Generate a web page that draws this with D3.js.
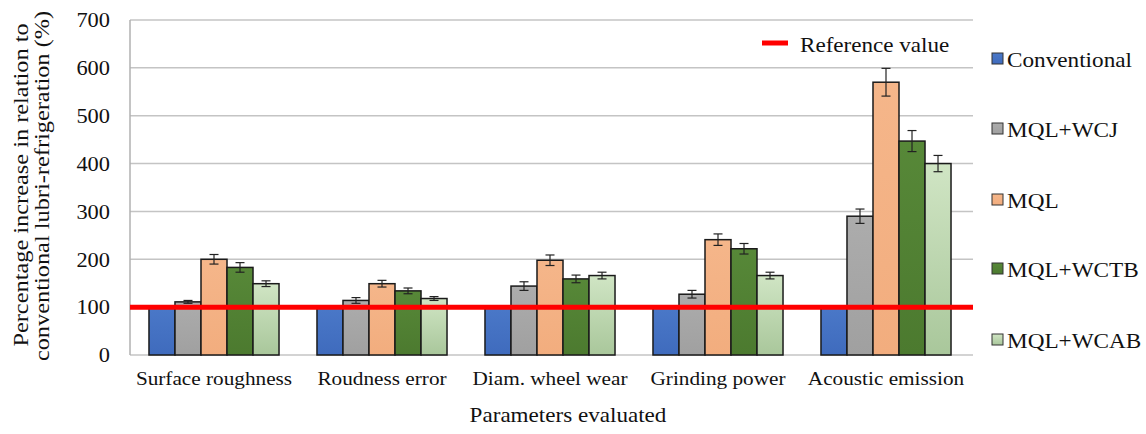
<!DOCTYPE html>
<html>
<head>
<meta charset="utf-8">
<script src="https://cdn.jsdelivr.net/npm/d3@7/dist/d3.min.js"></script>
<style>
  html, body { margin: 0; padding: 0; background: #fff; }
  svg { display: block; }
</style>
</head>
<body>
<svg id="chart" width="1146" height="434"></svg>
<script>
// Parameters evaluated (x categories)
const categories = ["Surface roughness", "Roudness error", "Diam. wheel wear", "Grinding power", "Acoustic emission"];
// Lubri-refrigeration methods (series)
const seriesNames = ["Conventional", "MQL+WCJ", "MQL", "MQL+WCTB", "MQL+WCAB"];

// Percentage values relative to conventional method
const conventional = [100, 100, 100, 100, 100];
const mqlWcj       = [111, 114, 144, 127, 290];
const mql          = [200, 149, 198, 241, 570];
const mqlWctb      = [183, 134, 159, 222, 447];
const mqlWcab      = [149, 118, 166, 166, 400];

// Error bar half-ranges
const errConventional = [0.5, 0.5, 0.5, 0.5, 0.5];
const errWcj          = [3, 6, 9, 8, 15];
const errMql          = [10, 7, 11, 12, 29];
const errWctb         = [10, 6, 8, 11, 22];
const errWcab         = [6, 4, 7, 7, 17];

const yTicks = [0, 100, 200, 300, 400, 500, 600, 700];
const referenceValue = 100;

const seriesValues = [conventional, mqlWcj, mql, mqlWctb, mqlWcab];
const seriesErrors = [errConventional, errWcj, errMql, errWctb, errWcab];
const colorsTop    = ["#4a78c8", "#acacac", "#f5b68a", "#578838", "#d0e5c4"];
const colorsBottom = ["#3f6bbd", "#a0a0a0", "#f2ad7e", "#4c7a2f", "#a9c79b"];

const FONT = "'Liberation Serif', Tinos, 'Times New Roman', Times, 'DejaVu Serif', serif";

const svg = d3.select("#chart");
const plotLeft = 130, plotRight = 970, plotTop = 20, plotBottom = 355;
const textStretch = 1.1; // horizontal stretch applied to text

const x = d3.scaleBand().domain(categories).range([plotLeft, plotRight]).paddingInner(0.226).paddingOuter(0.113);
const xs = d3.scaleBand().domain(seriesNames).range([0, x.bandwidth()]);
const y = d3.scaleLinear().domain([0, 700]).range([plotBottom, plotTop]);

// gradients for bar fills
const defs = svg.append("defs");
seriesNames.forEach((s, i) => {
  const g = defs.append("linearGradient").attr("id", "grad" + i)
    .attr("x1", 0).attr("y1", 0).attr("x2", 0).attr("y2", 1);
  g.append("stop").attr("offset", "0%").attr("stop-color", colorsTop[i]);
  g.append("stop").attr("offset", "100%").attr("stop-color", colorsBottom[i]);
});

function stretchedText(sel, tx, ty, str, opts = {}) {
  const t = sel.append("text")
    .attr("transform", `translate(${tx},${ty}) ${opts.rotate ? "rotate(" + opts.rotate + ")" : ""} scale(${opts.sx || textStretch},1)`)
    .attr("text-anchor", opts.anchor || "start")
    .attr("font-family", FONT)
    .attr("font-size", opts.size || 20)
    .attr("fill", "#111")
    .text(str);
  if (opts.dy) t.attr("dy", opts.dy);
  return t;
}

// gridlines
svg.append("g").selectAll("line").data(yTicks).join("line")
  .attr("x1", plotLeft).attr("x2", plotRight + 3)
  .attr("y1", d => y(d)).attr("y2", d => y(d))
  .attr("stroke", "#c4c4c4").attr("stroke-width", 1.5);

// left axis line
svg.append("line").attr("x1", plotLeft).attr("x2", plotLeft).attr("y1", y(700)).attr("y2", y(0))
  .attr("stroke", "#b0b0b0").attr("stroke-width", 1.5);

// y tick labels
const yAxis = d3.axisLeft(y).tickValues(yTicks).tickSize(0).tickPadding(20);
const yg = svg.append("g").attr("transform", `translate(${plotLeft},0)`).call(yAxis);
yg.select(".domain").remove();
yg.selectAll(".tick text").remove();
yg.selectAll(".tick").each(function(d) {
  stretchedText(d3.select(this), -20, 0, d, { anchor: "end", size: 20, dy: "0.34em", sx: 1.12 });
});

// bars
const groups = svg.append("g").selectAll("g").data(categories).join("g")
  .attr("transform", d => `translate(${x(d)},0)`);

seriesNames.forEach((s, si) => {
  groups.append("rect")
    .attr("x", xs(s))
    .attr("width", xs.bandwidth())
    .attr("y", (d, ci) => y(seriesValues[si][ci]))
    .attr("height", (d, ci) => y(0) - y(seriesValues[si][ci]))
    .attr("fill", `url(#grad${si})`)
    .attr("stroke", "#1a1a1a").attr("stroke-width", 1.5);
});

// error bars
seriesNames.forEach((s, si) => {
  const cx = xs(s) + xs.bandwidth() / 2;
  groups.each(function(d, ci) {
    const v = seriesValues[si][ci], e = seriesErrors[si][ci];
    const g = d3.select(this);
    g.append("line").attr("x1", cx).attr("x2", cx).attr("y1", y(v + e)).attr("y2", y(v - e))
      .attr("stroke", "#222").attr("stroke-width", 1.2);
    [v + e, v - e].forEach(vv => {
      g.append("line").attr("x1", cx - 4.5).attr("x2", cx + 4.5).attr("y1", y(vv)).attr("y2", y(vv))
        .attr("stroke", "#222").attr("stroke-width", 1.2);
    });
  });
});

// reference line
svg.append("line").attr("x1", plotLeft).attr("x2", plotRight + 3)
  .attr("y1", y(referenceValue)).attr("y2", y(referenceValue))
  .attr("stroke", "#ff0000").attr("stroke-width", 5);

// category labels
categories.forEach(c => {
  stretchedText(svg, x(c) + x.bandwidth() / 2, 385, c, { anchor: "middle", size: 19.5, sx: 1.09 });
});

// axis titles
stretchedText(svg, 568, 422, "Parameters evaluated", { anchor: "middle", size: 21, sx: 1.1 });
stretchedText(svg, 28, 185, "Percentage increase in relation to", { anchor: "middle", size: 21, rotate: -90, sx: 1.16 });
stretchedText(svg, 49, 186, "conventional lubri-refrigeration (%)", { anchor: "middle", size: 21, rotate: -90, sx: 1.16 });

// reference legend
svg.append("line").attr("x1", 762).attr("x2", 788).attr("y1", 43).attr("y2", 43)
  .attr("stroke", "#ff0000").attr("stroke-width", 5);
stretchedText(svg, 800, 52, "Reference value", { size: 21, sx: 1.1 });

// series legend
const legendBaselines = [67, 137, 208, 277, 348];
seriesNames.forEach((s, i) => {
  svg.append("rect").attr("x", 992).attr("y", legendBaselines[i] - 14).attr("width", 11).attr("height", 11)
    .attr("fill", `url(#grad${i})`).attr("stroke", "#333").attr("stroke-width", 1);
  stretchedText(svg, 1007, legendBaselines[i], s, { size: 21.5, sx: 1.08 });
});
</script>
</body>
</html>
